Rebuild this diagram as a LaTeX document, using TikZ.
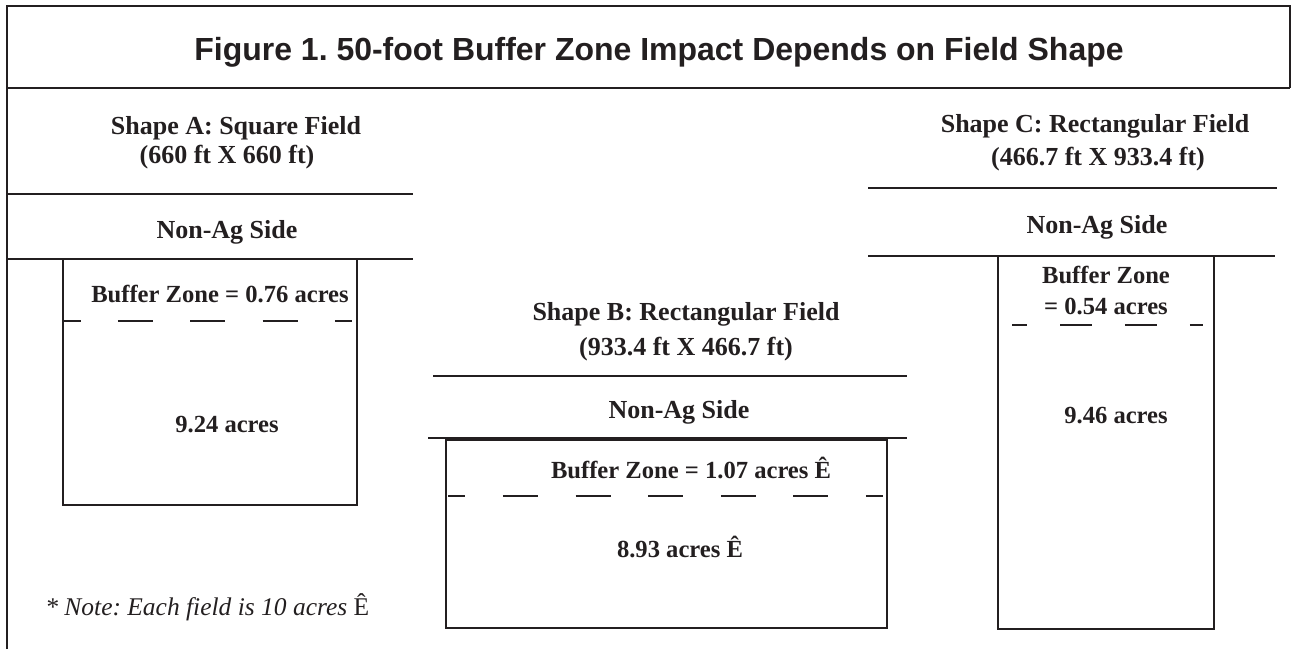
\documentclass[tikz,border=0pt]{standalone}
\usepackage{fontspec}
\setmainfont{Liberation Serif}
\newfontfamily\headfont{Liberation Sans}
\usepackage{tikz}
\usetikzlibrary{positioning}

\definecolor{ink}{RGB}{35,31,32}

\begin{document}
\frenchspacing
\begin{tikzpicture}[
        x=0.02cm, y=-0.02cm,
        frame/.style={draw=ink,line width=1.1pt},
        rule/.style={draw=ink,line width=1.3pt},
        field/.style={draw=ink,line width=1.6pt},
        zone/.style={draw=ink,line width=0.9pt},
        heading/.style={anchor=base,text=ink,inner sep=0pt,font=\fontsize{14.8}{17}\selectfont\bfseries},
        label/.style={anchor=base,text=ink,inner sep=0pt,font=\fontsize{14}{17}\selectfont\bfseries}
      ]
        \useasboundingbox (0,0) rectangle (1291,649);

        % outer frame and title bar
        \draw[frame] (7,649) -- (7,6) -- (1290,6) -- (1290,88);
        \draw[frame] (7,88) -- (1290,88);
        \node[anchor=base,text=ink,inner sep=0pt,font=\headfont\fontsize{18.2}{20}\selectfont\bfseries]
          (title) at (659,60) {Figure 1. 50-foot Buffer Zone Impact Depends on Field Shape};

        % shape A
        \node[heading] (headA) at (236,134) {Shape A: Square Field};
        \node[heading] (sizeA) at (227,163) {(660 ft X 660 ft)};
        \draw[rule] (7,194) -- (413,194);
        \node[heading] (sideA) at (227,238) {Non-Ag Side};
        \draw[rule] (7,259) -- (413,259);
        \draw[field] (63,259) rectangle (357,505);
        \node[label] (zoneA) at (220,302) {Buffer Zone = 0.76 acres};
        \draw[zone,dash pattern=on 0.7cm off 0.746cm,dash phase=0.346cm] (63,321) -- (352,321);
        \node[label] (restA) at (227,432) {9.24 acres};

        % shape B
        \node[heading] (headB) at (686,320) {Shape B: Rectangular Field};
        \node[heading] (sizeB) at (686,355) {(933.4 ft X 466.7 ft)};
        \draw[rule] (433,376) -- (907,376);
        \node[heading] (sideB) at (679,418) {Non-Ag Side};
        \draw[rule] (428,438) -- (907,438);
        \draw[field] (446,440) rectangle (887,628);
        \node[label] (zoneB) at (691,478) {Buffer Zone = 1.07 acres Ê};
        \draw[zone,dash pattern=on 0.7cm off 0.752cm,dash phase=0.352cm] (448,496) -- (883,496);
        \node[label] (restB) at (680,557) {8.93 acres Ê};

        % shape C
        \node[heading] (headC) at (1095,132) {Shape C: Rectangular Field};
        \node[heading] (sizeC) at (1098,165) {(466.7 ft X 933.4 ft)};
        \draw[rule] (868,188) -- (1277,188);
        \node[heading] (sideC) at (1097,233) {Non-Ag Side};
        \draw[rule] (868,256) -- (1275,256);
        \draw[field] (998,256) rectangle (1214,629);
        \node[label] (zoneC) at (1106,283) {Buffer Zone};
        \node[label] (zoneCb) at (1106,314) {= 0.54 acres};
        \draw[zone,dash pattern=on 0.64cm off 0.66cm,dash phase=0.34cm] (1012,325) -- (1203,325);
        \node[label] (restC) at (1116,423) {9.46 acres};

        % footnote
        \node[anchor=base west,text=ink,inner sep=0pt,font=\fontsize{14.5}{17}\selectfont]
          (note) at (45,615) {\textit{* Note: Each field is 10 acres} Ê};
      \end{tikzpicture}
\end{document}
